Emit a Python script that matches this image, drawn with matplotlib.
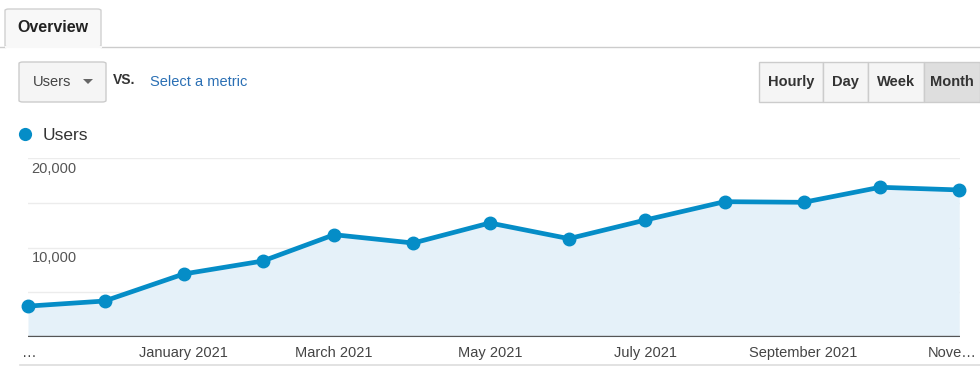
import matplotlib
matplotlib.use("Agg")
import matplotlib.pyplot as plt
import matplotlib.dates as mdates
from matplotlib.patches import Rectangle, FancyBboxPatch, Polygon
from matplotlib.lines import Line2D
import matplotlib.transforms as mtransforms

plt.rcParams['font.family'] = ['Liberation Sans', 'DejaVu Sans']

# ---- data ----
month_starts = ["2020-11-01", "2020-12-01", "2021-01-01", "2021-02-01",
                "2021-03-01", "2021-04-01", "2021-05-01", "2021-06-01",
                "2021-07-01", "2021-08-01", "2021-09-01", "2021-10-01",
                "2021-11-01"]
users = [3450, 4020, 7040, 8490, 11430, 10500, 12740, 10990, 13070,
         15120, 15050, 16730, 16430]
tick_dates = ["2020-11-01", "2021-01-01", "2021-03-01", "2021-05-01",
              "2021-07-01", "2021-09-01", "2021-11-01"]
tick_labels = ["…", "January 2021", "March 2021", "May 2021", "July 2021",
               "September 2021", "Nove…"]
y_gridlines = [0, 5000, 10000, 15000, 20000]
y_labels = {20000: "20,000", 10000: "10,000"}
buttons = ["Hourly", "Day", "Week", "Month"]

W, H = 980, 366
fig = plt.figure(figsize=(W / 100, H / 100), dpi=100)
fig.patch.set_facecolor('white')

def fx(x):
    return x / W

def fy(y):
    return 1 - y / H

BLUE = '#058dc7'

xs = [mdates.datestr2num(d) for d in month_starts]
txs = [mdates.datestr2num(d) for d in tick_dates]

# ---- chart axes ----
x0, x1, ytop, ybot = 28, 960, 158, 337
ax = fig.add_axes([fx(x0), fy(ybot), fx(x1) - fx(x0), fy(ytop) - fy(ybot)])
ax.set_xlim(xs[0], xs[-1] + 0.3)
ax.set_ylim(0, 20000)
for s in ax.spines.values():
    s.set_visible(False)
ax.set_yticks([])
ax.set_xticks([])
for g in y_gridlines[1:]:
    ax.axhline(g, color='#ececec', lw=1.0, zorder=0)
ax.axhline(0, color='#555555', lw=1.7, zorder=3)

ax.fill_between(xs, users, 0, color='#e5f1f9', zorder=1, lw=0)
ax.plot(xs, users, color=BLUE, lw=3.4, marker='o', markersize=9,
        zorder=4, clip_on=False, solid_joinstyle='round')

# y labels inside chart
off = mtransforms.offset_copy(ax.get_yaxis_transform(), fig=fig, x=0, y=-4, units='dots')
for v, lab in y_labels.items():
    ax.text(0.004, v, lab, transform=off, ha='left', va='top',
            fontsize=10.5, color='#555555')

# x tick labels
span = xs[-1] - xs[0]
for p, lab in zip(txs, tick_labels):
    ha = 'center'
    xx = p
    if lab == "…":
        ha = 'left'
        xx = p - span * 0.006
    if lab.startswith("Nove"):
        ha = 'right'
        xx = p + span * 0.019
    ax.text(xx, -0.05, lab, transform=ax.get_xaxis_transform(), ha=ha,
            va='top', fontsize=10.5, color='#444444')

# bottom separator
fig.add_artist(Line2D([fx(20), fx(980)], [fy(364.5), fy(364.5)], color='#dddddd', lw=1.2))

# ---- header: tab ----
fig.add_artist(Line2D([0, fx(5)], [fy(47), fy(47)], color='#cccccc', lw=1))
fig.add_artist(Line2D([fx(101), 1], [fy(47), fy(47)], color='#cccccc', lw=1))
tab = FancyBboxPatch((fx(5), fy(47)), fx(101) - fx(5), fy(9) - fy(47),
                     boxstyle='round,pad=0,rounding_size=0.004',
                     transform=fig.transFigure, facecolor='#f8f8f8',
                     edgecolor='#d0d0d0', lw=1)
fig.add_artist(tab)
fig.add_artist(Line2D([fx(5.5), fx(100.5)], [fy(47), fy(47)], color='#f8f8f8', lw=1.5))
fig.text(fx(53), fy(27), "Overview", ha='center', va='center', fontsize=11.5,
         fontweight='bold', color='#222222')

# ---- dropdown ----
dd = FancyBboxPatch((fx(19), fy(102)), fx(106) - fx(19), fy(62) - fy(102),
                    boxstyle='round,pad=0,rounding_size=0.004',
                    transform=fig.transFigure, facecolor='#f5f5f5',
                    edgecolor='#cccccc', lw=1)
fig.add_artist(dd)
fig.text(fx(33), fy(82), "Users", ha='left', va='center', fontsize=10.5, color='#444444')
tri = Polygon([[fx(83), fy(79)], [fx(93), fy(79)], [fx(88), fy(84)]],
              closed=True, transform=fig.transFigure, facecolor='#666666', edgecolor='none')
fig.add_artist(tri)
fig.text(fx(113), fy(80), "VS.", ha='left', va='center', fontsize=10,
         fontweight='bold', color='#333333')
fig.text(fx(150), fy(82), "Select a metric", ha='left', va='center', fontsize=10.5,
         color='#2a6fb4')

# ---- buttons ----
edges = [759, 823, 868, 924, 980]
for i, b in enumerate(buttons):
    l, r = edges[i], edges[i + 1]
    fc = '#dedede' if b == "Month" else '#f5f5f5'
    rect = Rectangle((fx(l), fy(102)), fx(r) - fx(l), fy(62) - fy(102),
                     transform=fig.transFigure, facecolor=fc, edgecolor='#cccccc', lw=1)
    fig.add_artist(rect)
    fig.text(fx((l + r) / 2), fy(82), b, ha='center', va='center', fontsize=10.5,
             fontweight='bold', color='#333333')

# ---- legend ----
fig.add_artist(Line2D([fx(25)], [fy(134)], marker='o', markersize=9.5,
                      color=BLUE, markeredgewidth=0, linestyle='none'))
fig.text(fx(43), fy(135), "Users", ha='left', va='center', fontsize=12.5, color='#333333')

fig.savefig('out.png', dpi=100, facecolor='white')
